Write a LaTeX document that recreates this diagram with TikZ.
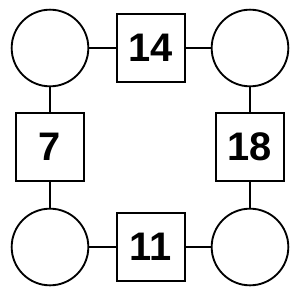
\documentclass[tikz,border=0pt]{standalone}
\usepackage{fontspec}
\setmainfont{Liberation Sans}
\usetikzlibrary{positioning}

\begin{document}
\begin{tikzpicture}[x=0.03cm, y=-0.03cm, line width=1.6pt,
                    spot/.style={circle, draw, fill=white, minimum size=2.3cm, inner sep=0pt},
                    numbox/.style={rectangle, draw, fill=white, minimum size=2.02cm, inner sep=0pt,
                                   font=\fontsize{34}{40}\selectfont\bfseries}]
    \useasboundingbox (0,0) rectangle (300,300);

    % Node Placements
    \node[spot] (C00) at (50,48)   {};
    \node[spot] (C10) at (250,48)  {};
    \node[spot] (C01) at (50,247)  {};
    \node[spot] (C11) at (250,247) {};

    \node[numbox] (Ntop)   at (151,48)  {14};
    \node[numbox] (Nleft)  at (50,147)  {7};
    \node[numbox] (Nright) at (250,147) {18};
    \node[numbox] (Nbot)   at (151,247) {11};

    % Connectors
    \draw (C00) -- (Ntop) -- (C10);
    \draw (C00) -- (Nleft) -- (C01);
    \draw (C10) -- (Nright) -- (C11);
    \draw (C01) -- (Nbot) -- (C11);
\end{tikzpicture}
\end{document}
